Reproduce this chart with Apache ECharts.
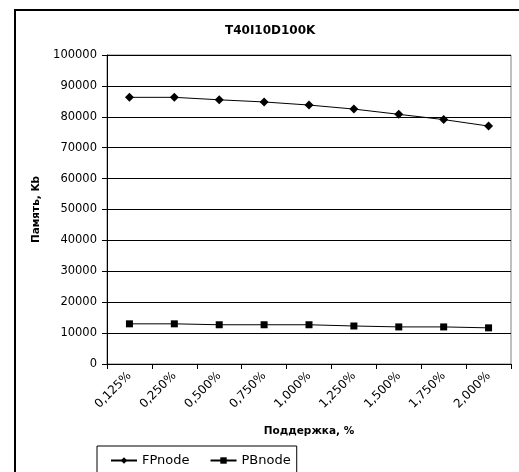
<!DOCTYPE html>
<html>
<head>
<meta charset="utf-8">
<script src="https://cdn.jsdelivr.net/npm/echarts@6/dist/echarts.min.js"></script>
<style>
  html, body { margin: 0; padding: 0; background: #fff; }
  #chart { width: 519px; height: 472px; }
</style>
</head>
<body>
<div id="chart"></div>
<script>
// Support thresholds (x axis)
var categories = ['0,125%', '0,250%', '0,500%', '0,750%', '1,000%', '1,250%', '1,500%', '1,750%', '2,000%'];
// Memory usage, Kb
var fpnode = [86300, 86300, 85500, 84800, 83800, 82500, 80800, 79100, 77000];
var pbnode = [13000, 13000, 12700, 12700, 12700, 12300, 12000, 12000, 11700];

var FONT = '"DejaVu Sans", sans-serif';

var chart = echarts.init(document.getElementById('chart'), null, { renderer: 'canvas' });
chart.setOption({
  backgroundColor: '#ffffff',
  animation: false,
  title: {
    text: 'T40I10D100K',
    left: 225,
    top: 25,
    padding: 0,
    textStyle: { fontFamily: FONT, fontSize: 12, fontWeight: 'bold', color: '#000' }
  },
  graphic: [
    {
      type: 'rect',
      shape: { x: 15, y: 10, width: 530, height: 480 },
      style: { fill: 'none', stroke: '#000', lineWidth: 2 },
      silent: true
    }
  ],
  legend: {
    left: 97,
    top: 446,
    padding: [8, 6, 10, 13],
    itemGap: 20,
    itemWidth: 26,
    itemHeight: 8,
    borderColor: '#000',
    borderWidth: 1,
    textStyle: { fontFamily: FONT, fontSize: 13, color: '#000' },
    data: ['FPnode', 'PBnode']
  },
  grid: { left: 107, top: 55, width: 404, height: 309, show: true, borderColor: '#808080', borderWidth: 1, backgroundColor: '#fff' },
  xAxis: {
    type: 'category',
    data: categories,
    boundaryGap: true,
    name: 'Поддержка, %',
    nameLocation: 'middle',
    nameGap: 62,
    nameTextStyle: { fontFamily: FONT, fontSize: 10.5, fontWeight: 'bold', color: '#000' },
    axisLine: { lineStyle: { color: '#000', width: 1 } },
    axisTick: { show: true, alignWithLabel: false, length: 5, lineStyle: { color: '#000' } },
    axisLabel: { rotate: 45, fontFamily: FONT, fontSize: 12, color: '#000', margin: 10, interval: 0 },
    splitLine: { show: false }
  },
  yAxis: {
    type: 'value',
    min: 0,
    max: 100000,
    interval: 10000,
    name: 'Память, Kb',
    nameLocation: 'middle',
    nameGap: 60,
    nameTextStyle: { fontFamily: FONT, fontSize: 10.5, fontWeight: 'bold', color: '#000' },
    axisLine: { show: true, lineStyle: { color: '#000', width: 1 } },
    axisTick: { show: true, length: 5, lineStyle: { color: '#000' } },
    axisLabel: {
      fontFamily: FONT, fontSize: 11.5, color: '#000', margin: 10,
      formatter: function (v) { return String(v); }
    },
    splitLine: { show: true, lineStyle: { color: '#000', width: 1 } }
  },
  series: [
    {
      name: 'FPnode',
      type: 'line',
      data: fpnode,
      symbol: 'diamond',
      symbolSize: 9,
      itemStyle: { color: '#000' },
      lineStyle: { color: '#000', width: 1 }
    },
    {
      name: 'PBnode',
      type: 'line',
      data: pbnode,
      symbol: 'rect',
      symbolSize: 7,
      itemStyle: { color: '#000' },
      lineStyle: { color: '#000', width: 1 }
    }
  ]
});
</script>
</body>
</html>
